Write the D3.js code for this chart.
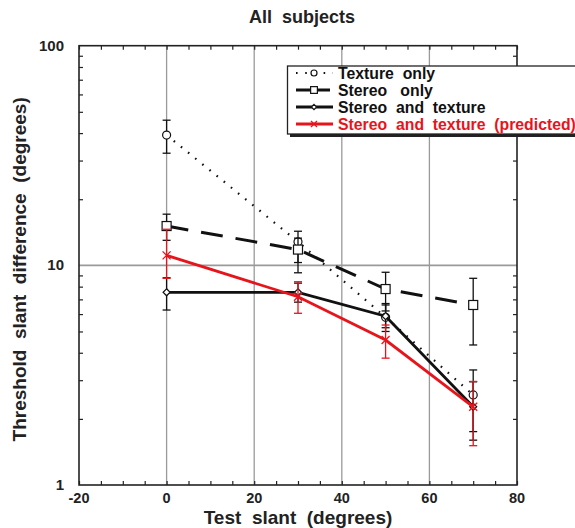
<!DOCTYPE html>
<html>
<head>
<meta charset="utf-8">
<script src="https://cdn.jsdelivr.net/npm/d3@7"></script>
<style>
  body { margin: 0; background: #fff; }
  svg { display: block; font-family: "Liberation Sans", Arial, Helvetica, sans-serif; font-weight: bold; }
  text { white-space: pre; }
</style>
</head>
<body>
<svg id="chart" width="575" height="528"></svg>
<script>
// Données
const slants = [0, 30, 50, 70];
const xTicks = [-20, 0, 20, 40, 60, 80];
const yTicks = [1, 10, 100];

const textureOnly = [39.2, 12.8, 5.8, 2.57];
const textureLow = [32.4, 9.25, 5.0, 1.75];
const textureHigh = [45.8, 14.3, 6.7, 3.34];

const stereoOnly = [15.1, 11.8, 7.8, 6.6];
const stereoLow = [13.0, 10.3, 6.2, 4.34];
const stereoHigh = [17.1, 13.3, 9.3, 8.73];

const stereoTexture = [7.54, 7.54, 5.87, 2.27];
const stereoTextureLow = [6.26, 6.8, 5.2, 1.6];
const stereoTextureHigh = [8.78, 8.3, 6.6, 2.95];

const predicted = [11.1, 7.2, 4.57, 2.27];
const predictedLow = [8.73, 6.05, 3.78, 1.51];
const predictedHigh = [14.6, 8.42, 5.35, 2.96];

const seriesNames = ["Texture  only", "Stereo   only", "Stereo  and  texture", "Stereo  and  texture  (predicted)"];

// Configuration
const margin = { left: 79, right: 517, top: 45.7, bottom: 485 };
const svg = d3.select("#chart");

const x = d3.scaleLinear().domain([-20, 80]).range([margin.left, margin.right]);
const y = d3.scaleLog().domain([1, 100]).range([margin.bottom, margin.top]);

// Grille
svg.append("g").selectAll("line")
    .data([0, 20, 40, 60])
    .enter().append("line")
    .attr("x1", d => x(d)).attr("x2", d => x(d))
    .attr("y1", margin.top).attr("y2", margin.bottom)
    .attr("stroke", "#9a9a9a").attr("stroke-width", 1.3);

svg.append("line")
    .attr("x1", margin.left).attr("x2", margin.right)
    .attr("y1", y(10)).attr("y2", y(10))
    .attr("stroke", "#9a9a9a").attr("stroke-width", 1.6);

// Axes (ticks vers l'intérieur)
const minorX = d3.range(-20, 81, 5);
const minorY = [];
[1, 10].forEach(dec => d3.range(2, 10).forEach(k => minorY.push(dec * k)));

svg.append("g")
    .attr("transform", `translate(0,${margin.bottom})`)
    .call(d3.axisBottom(x).tickValues(minorX).tickSize(-4).tickFormat(""))
    .call(g => g.select(".domain").remove());
svg.append("g")
    .attr("transform", `translate(0,${margin.top})`)
    .call(d3.axisTop(x).tickValues(minorX).tickSize(-4).tickFormat(""))
    .call(g => g.select(".domain").remove());
svg.append("g")
    .attr("transform", `translate(${margin.left},0)`)
    .call(d3.axisLeft(y).tickValues(minorY).tickSize(-4).tickFormat(""))
    .call(g => g.select(".domain").remove());
svg.append("g")
    .attr("transform", `translate(${margin.right},0)`)
    .call(d3.axisRight(y).tickValues(minorY).tickSize(-4).tickFormat(""))
    .call(g => g.select(".domain").remove());
svg.selectAll(".tick line").attr("stroke", "#222").attr("stroke-width", 1.2);

// Cadre
svg.append("rect")
    .attr("x", margin.left).attr("y", margin.top)
    .attr("width", margin.right - margin.left)
    .attr("height", margin.bottom - margin.top)
    .attr("fill", "none").attr("stroke", "#222").attr("stroke-width", 1.6);

// Labels des ticks
svg.append("g").selectAll("text")
    .data(xTicks)
    .enter().append("text")
    .attr("x", d => x(d)).attr("y", 502.5)
    .attr("text-anchor", "middle")
    .attr("font-size", 14.5)
    .attr("fill", "#222")
    .text(d => d);

svg.append("g").selectAll("text")
    .data(yTicks)
    .enter().append("text")
    .attr("x", 64).attr("y", d => y(d) + 5)
    .attr("text-anchor", "end")
    .attr("font-size", 15)
    .attr("fill", "#222")
    .text(d => d);

// Titres
svg.append("text")
    .attr("x", 302).attr("y", 23)
    .attr("text-anchor", "middle")
    .attr("font-size", 18)
    .attr("fill", "#222")
    .text("All  subjects");

svg.append("text")
    .attr("x", 298).attr("y", 524)
    .attr("text-anchor", "middle")
    .attr("font-size", 19)
    .attr("fill", "#222")
    .text("Test  slant  (degrees)");

svg.append("text")
    .attr("transform", `translate(26,${(margin.top + margin.bottom) / 2 + 4}) rotate(-90)`)
    .attr("text-anchor", "middle")
    .attr("font-size", 19)
    .attr("fill", "#222")
    .text("Threshold  slant  difference  (degrees)");

// Séries
const series = [
    { values: textureOnly, low: textureLow, high: textureHigh, color: "#111", width: 2.2, dash: "1.6,7.6", marker: "circle" },
    { values: stereoOnly, low: stereoLow, high: stereoHigh, color: "#111", width: 3, dash: "22,13", marker: "square" },
    { values: stereoTexture, low: stereoTextureLow, high: stereoTextureHigh, color: "#111", width: 2.8, dash: null, marker: "diamond" },
    { values: predicted, low: predictedLow, high: predictedHigh, color: "#e8141c", width: 2.8, dash: null, marker: "cross" }
];

function drawMarker(g, type, cx, cy, color, k = 1) {
    if (type === "circle") {
        g.append("circle").attr("cx", cx).attr("cy", cy).attr("r", 4 * k)
            .attr("fill", "#fff").attr("stroke", color).attr("stroke-width", 1.2);
    } else if (type === "square") {
        const h = 4.5 * k;
        g.append("rect").attr("x", cx - h).attr("y", cy - h).attr("width", 2 * h).attr("height", 2 * h)
            .attr("fill", "#fff").attr("stroke", color).attr("stroke-width", 1.2);
    } else if (type === "diamond") {
        const h = 3.5 * k;
        g.append("path").attr("d", `M${cx},${cy - h}L${cx + h},${cy}L${cx},${cy + h}L${cx - h},${cy}Z`)
            .attr("fill", "#fff").attr("stroke", color).attr("stroke-width", 1.2);
    } else {
        const h = 4 * k;
        g.append("path").attr("d", `M${cx - h},${cy - h}L${cx + h},${cy + h}M${cx - h},${cy + h}L${cx + h},${cy - h}`)
            .attr("stroke", color).attr("stroke-width", 1.3);
    }
}

const line = d3.line().x(d => x(d[0])).y(d => y(d[1]));

series.forEach(s => {
    const g = svg.append("g");
    const pts = slants.map((t, i) => [t, s.values[i]]);

    // Barres d'erreur
    slants.forEach((t, i) => {
        const cx = x(t);
        g.append("line")
            .attr("x1", cx).attr("x2", cx)
            .attr("y1", y(s.low[i])).attr("y2", y(s.high[i]))
            .attr("stroke", s.color).attr("stroke-width", 1.3);
        [s.low[i], s.high[i]].forEach(v => {
            g.append("line")
                .attr("x1", cx - 4).attr("x2", cx + 4)
                .attr("y1", y(v)).attr("y2", y(v))
                .attr("stroke", s.color).attr("stroke-width", 1.3);
        });
    });

    g.append("path")
        .attr("d", line(pts))
        .attr("fill", "none")
        .attr("stroke", s.color)
        .attr("stroke-width", s.width)
        .attr("stroke-dasharray", s.dash);

    pts.forEach(p => drawMarker(g, s.marker, x(p[0]), y(p[1]), s.color));
});

// Légende
const legend = svg.append("g");
legend.append("rect")
    .attr("x", 290).attr("y", 69).attr("width", 300).attr("height", 68)
    .attr("fill", "#222");
legend.append("rect")
    .attr("x", 287.5).attr("y", 66).attr("width", 300).attr("height", 68)
    .attr("fill", "#fff").attr("stroke", "#222").attr("stroke-width", 1.3);

series.forEach((s, i) => {
    const ly = 73 + i * 17;
    legend.append("line")
        .attr("x1", 296).attr("x2", 333)
        .attr("y1", ly).attr("y2", ly)
        .attr("stroke", s.color)
        .attr("stroke-width", s.width)
        .attr("stroke-dasharray", s.dash ? (i === 0 ? "1.6,7.6" : "14,6") : null);
    drawMarker(legend, s.marker, 314, ly, s.color, 0.75);
    legend.append("text")
        .attr("x", 338).attr("y", ly + 5.5)
        .attr("font-size", 15.8)
        .attr("fill", s.color)
        .text(seriesNames[i]);
});
</script>
</body>
</html>
